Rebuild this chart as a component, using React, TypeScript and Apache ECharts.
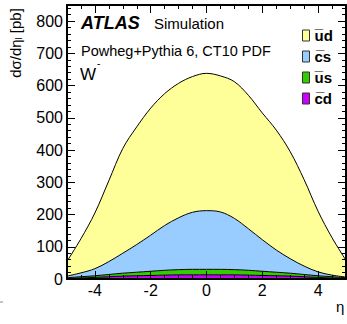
import React, { useEffect, useRef } from "react";
import * as echarts from "echarts";

const eta = [-5, -4.5, -4, -3.5, -3, -2.5, -2, -1.5, -1, -0.5, 0, 0.5, 1, 1.5, 2, 2.5, 3, 3.5, 4, 4.5, 5];
const cdValues = [2, 3, 5, 7, 9, 10, 11, 12, 13, 13, 13, 13, 13, 12, 11, 10, 9, 7, 5, 3, 2];
const usValues = [2, 4, 5, 7, 9, 11, 13, 15, 16, 17, 17, 17, 16, 15, 13, 11, 9, 7, 5, 4, 2];
const csValues = [5, 12, 22, 40, 62, 86, 112, 139, 161, 177, 182, 178, 159, 129, 98, 69, 45, 26, 12, 5, 2];
const udValues = [46, 106, 173, 251, 325, 365, 394, 409, 417, 421, 426, 422, 424, 414, 393, 372, 332, 268, 188, 116, 52];

const seriesNames = ["c\u0305d", "u\u0305s", "c\u0305s", "u\u0305d"];
const legendOrder = ["u\u0305d", "c\u0305s", "u\u0305s", "c\u0305d"];
const seriesColors = ["#cc00ff", "#33cc00", "#99ccff", "#ffff99"];
const seriesValues = [cdValues, usValues, csValues, udValues];

const font = "'Liberation Sans', Arial, Helvetica, sans-serif";

export default function App() {
  const ref = useRef<HTMLDivElement>(null);
  useEffect(() => {
    if (!ref.current) return;
    const chart = echarts.init(ref.current, undefined, { renderer: "svg" });
    const majorX = (pos: string, labels: boolean) => ({
      type: "value", min: -5, max: 5, splitNumber: 5, position: pos, z: 5,
      axisLine: { show: true, onZero: false, lineStyle: { color: "#000", width: 2 } },
      axisTick: { show: true, inside: true, length: 8, lineStyle: { color: "#000", width: 1 } },
      axisLabel: { show: labels, showMinLabel: false, showMaxLabel: false, fontSize: 16, color: "#000", margin: 3, fontFamily: font },
      splitLine: { show: false },
    });
    const minorX = (pos: string) => ({
      type: "value", min: -5, max: 5, interval: 0.5, position: pos, z: 5,
      axisLine: { show: false, onZero: false },
      axisTick: { show: true, inside: true, length: 4, lineStyle: { color: "#000", width: 1 } },
      axisLabel: { show: false },
      splitLine: { show: false },
    });
    const majorY = (pos: string, labels: boolean) => ({
      type: "value", min: 0, max: 850, interval: 100, position: pos, z: 5,
      axisLine: { show: true, onZero: false, lineStyle: { color: "#000", width: 2 } },
      axisTick: { show: true, inside: true, length: 8, lineStyle: { color: "#000", width: 1 } },
      axisLabel: { show: labels, showMaxLabel: false, fontSize: 16, color: "#000", margin: 4, fontFamily: font },
      splitLine: { show: false },
    });
    const minorY = (pos: string) => ({
      type: "value", min: 0, max: 850, interval: 20, position: pos, z: 5,
      axisLine: { show: false, onZero: false },
      axisTick: { show: true, inside: true, length: 4, lineStyle: { color: "#000", width: 1 } },
      axisLabel: { show: false },
      splitLine: { show: false },
    });
    const dataX = {
      type: "category", data: eta.map(String), boundaryGap: false, position: "bottom", show: false,
      axisLine: { show: false, onZero: false }, axisTick: { show: false }, axisLabel: { show: false },
    };

    chart.setOption({
      animation: false,
      grid: { left: 67, right: 1, top: 5, bottom: 45, containLabel: false },
      xAxis: [majorX("bottom", true), minorX("bottom"), majorX("top", false), minorX("top"), dataX],
      yAxis: [majorY("left", true), minorY("left"), majorY("right", false), minorY("right")],
      legend: {
        orient: "vertical", left: 297, top: 23, itemWidth: 7, itemHeight: 11, itemGap: 6,
        icon: "rect", data: legendOrder,
        itemStyle: { borderColor: "#333", borderWidth: 1 },
        textStyle: { fontFamily: font, fontWeight: "bold", fontSize: 15, color: "#000" },
      },
      series: seriesNames.map((name, i) => ({
        name, type: "line", stack: "total", smooth: 0.35, showSymbol: false, symbol: "none",
        xAxisIndex: 4, yAxisIndex: 0, z: 2,
        color: seriesColors[i],
        itemStyle: { color: seriesColors[i] },
        lineStyle: { color: "#000", width: 1 },
        areaStyle: { color: seriesColors[i], opacity: 1 },
        data: seriesValues[i],
      })),
      graphic: [
        { type: "text", left: 81, top: 14, z: 10, style: { text: "ATLAS", font: `italic bold 18px ${font}`, fill: "#000" } },
        { type: "text", left: 154, top: 16, z: 10, style: { text: "Simulation", font: `15px ${font}`, fill: "#000" } },
        { type: "text", left: 81, top: 43, z: 10, style: { text: "Powheg+Pythia 6, CT10 PDF", font: `14.5px ${font}`, fill: "#000" } },
        { type: "text", left: 80, top: 66, z: 10, style: { text: "W", font: `17px ${font}`, fill: "#000" } },
        { type: "text", left: 97, top: 58, z: 10, style: { text: "-", font: `10px ${font}`, fill: "#000" } },
        { type: "text", left: 336, top: 299, z: 10, style: { text: "η", font: `15px ${font}`, fill: "#000" } },
        { type: "line", z: 10, shape: { x1: 0, y1: 302, x2: 3, y2: 302 }, style: { stroke: "#888", lineWidth: 1 } },
        {
          type: "text", x: 15, y: 43, rotation: Math.PI / 2, z: 10,
          style: {
            text: "{a|dσ/dη}{s|l}{a| [pb]}", align: "center", verticalAlign: "middle",
            rich: {
              a: { fontFamily: font, fontSize: 15, fill: "#000", color: "#000" },
              s: { fontFamily: font, fontSize: 9, fill: "#000", color: "#000", verticalAlign: "bottom", padding: [8, 0, 0, 0] },
            },
          },
        },
      ],
    });
    return () => chart.dispose();
  }, []);
  return <div ref={ref} style={{ width: 347, height: 324, position: "absolute", left: 0, top: 0 }} />;
}
